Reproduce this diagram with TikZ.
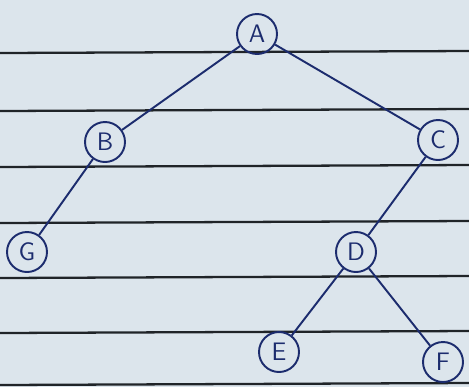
\documentclass[tikz,border=0pt]{standalone}
\usepackage{xcolor}
\usepackage{tikz}
\usetikzlibrary{arrows.meta,positioning}

\definecolor{paper}{HTML}{DCE5EC}
\definecolor{ink}{HTML}{1C2C6E}
\definecolor{rule}{HTML}{202428}

\begin{document}
\begin{tikzpicture}[
  x=0.02cm, y=-0.02cm,
  vertex/.style={draw=ink, circle, line width=1.1pt, minimum size=0.8cm, inner sep=0pt, text=ink, font=\Large\sffamily},
  edge/.style={draw=ink, line width=1.1pt},
  ruling/.style={draw=rule, line width=1.3pt}
]
\fill[paper] (0,0) rectangle (469,387);
\useasboundingbox (0,0) rectangle (469,387);
% ruled lines of the page
\foreach \yy in {52,110,166,222,277,332,384}
  \draw[ruling] (0,\yy+1) -- (469,\yy-1);
% tree
\node[vertex] (a) at (257,34) {A};
\node[vertex] (b) at (105,142) {B};
\node[vertex] (c) at (438,140) {C};
\node[vertex] (g) at (27,252) {G};
\node[vertex] (d) at (356,252) {D};
\node[vertex] (e) at (279,352) {E};
\node[vertex] (f) at (443,362) {F};
\draw[edge] (a)--(b);
\draw[edge] (a)--(c);
\draw[edge] (b)--(g);
\draw[edge] (c)--(d);
\draw[edge] (d)--(e);
\draw[edge] (d)--(f);
\end{tikzpicture}
\end{document}
